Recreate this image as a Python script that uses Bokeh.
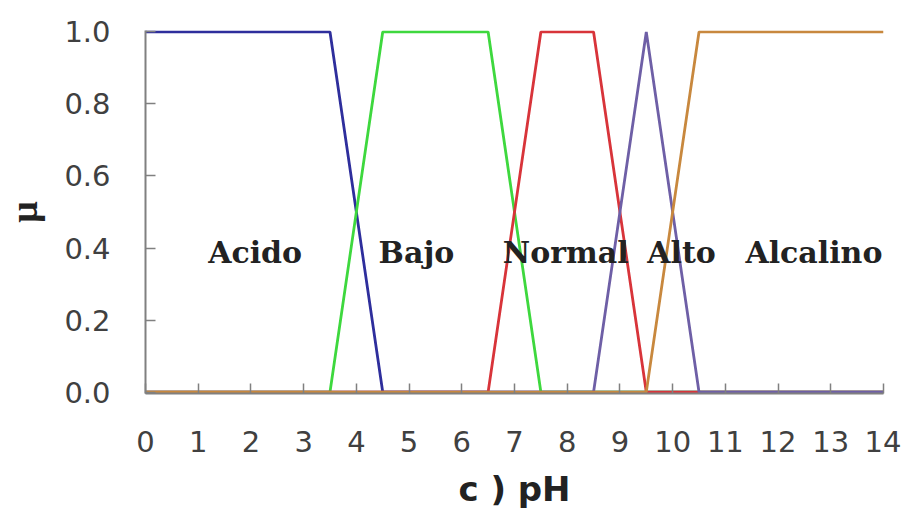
from bokeh.plotting import figure
from bokeh.models import Range1d, FixedTicker, CustomJSTickFormatter, Label
from bokeh.embed import file_html
from bokeh.resources import INLINE

# Membership functions (pH -> mu)
acido_x = [0, 3.5, 4.5, 14]
acido_y = [1, 1, 0, 0]
bajo_x = [0, 3.5, 4.5, 6.5, 7.5, 14]
bajo_y = [0, 0, 1, 1, 0, 0]
normal_x = [0, 6.5, 7.5, 8.5, 9.5, 14]
normal_y = [0, 0, 1, 1, 0, 0]
alto_x = [0, 8.5, 9.5, 10.5, 14]
alto_y = [0, 0, 1, 0, 0]
alcalino_x = [0, 9.5, 10.5, 14]
alcalino_y = [0, 0, 1, 1]

label_names = ["Acido", "Bajo", "Normal", "Alto", "Alcalino"]
label_x = [2.08, 5.14, 7.97, 10.17, 12.68]
label_y = 0.387

x_ticks = list(range(0, 15))
y_ticks = [0.0, 0.2, 0.4, 0.6, 0.8, 1.0]

p = figure(width=901, height=511, output_backend="svg", toolbar_location=None,
           x_range=Range1d(0, 14), y_range=Range1d(-0.004, 1.004))
p.min_border_left = 145
p.min_border_right = 18
p.min_border_top = 30
p.min_border_bottom = 117
p.outline_line_color = None
p.xgrid.visible = False
p.ygrid.visible = False
p.background_fill_color = "white"
p.border_fill_color = "white"

series = [
    (acido_x, acido_y, "#2e2e9c"),
    (bajo_x, bajo_y, "#3ed83e"),
    (normal_x, normal_y, "#d8343a"),
    (alto_x, alto_y, "#6e5fa6"),
    (alcalino_x, alcalino_y, "#c8883e"),
]
for xs, ys, c in series:
    p.line(xs, ys, line_color=c, line_width=2.8)

for name, lx in zip(label_names, label_x):
    p.add_layout(Label(x=lx, y=label_y, text=name, text_align="center",
                       text_baseline="alphabetic", text_font="DejaVu Serif",
                       text_font_style="bold", text_font_size="30px",
                       text_color="#222222"))

axis_color = "#808080"
for ax in (p.xaxis[0], p.yaxis[0]):
    ax.axis_line_color = axis_color
    ax.axis_line_width = 2
    ax.major_tick_line_color = axis_color
    ax.major_tick_line_width = 1.5
    ax.major_tick_in = 10
    ax.major_tick_out = 0
    ax.minor_tick_line_color = None
    ax.major_label_text_font = "DejaVu Sans"
    ax.major_label_text_font_size = "29px"
    ax.major_label_text_color = "#404040"

p.xaxis.ticker = FixedTicker(ticks=x_ticks)
p.yaxis.ticker = FixedTicker(ticks=y_ticks)
p.yaxis.formatter = CustomJSTickFormatter(code="return tick.toFixed(1);")
p.xaxis.major_label_standoff = 37
p.yaxis.major_label_standoff = 35

p.xaxis.axis_label = "c ) pH"
p.xaxis.axis_label_text_font = "DejaVu Sans"
p.xaxis.axis_label_text_font_style = "bold"
p.xaxis.axis_label_text_font_size = "34px"
p.xaxis.axis_label_text_color = "#222222"
p.xaxis.axis_label_standoff = 14

p.yaxis.axis_label = "µ"
p.yaxis.axis_label_text_font = "Liberation Serif"
p.yaxis.axis_label_text_font_style = "bold"
p.yaxis.axis_label_text_font_size = "38px"
p.yaxis.axis_label_text_color = "#222222"
p.yaxis.axis_label_standoff = 16

open("out.html", "w").write(file_html(p, INLINE))
